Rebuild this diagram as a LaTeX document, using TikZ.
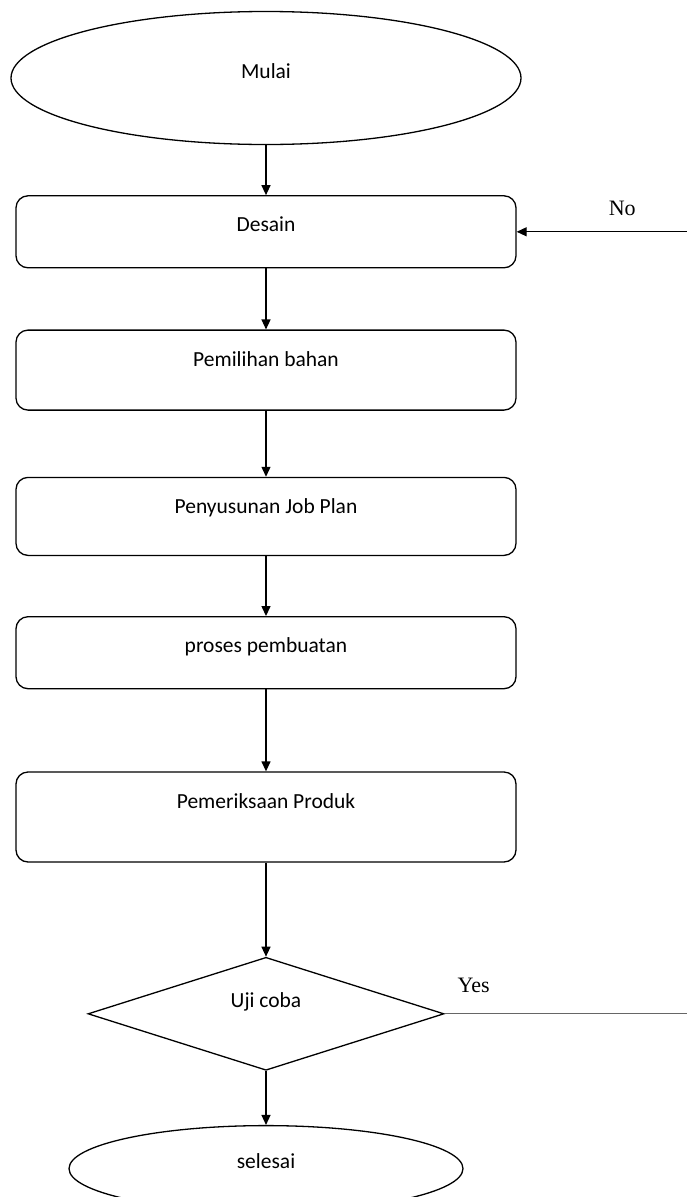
\documentclass[tikz,border=0pt]{standalone}
\usepackage{fontspec}
\setmainfont{Carlito}
\newfontfamily\timesfont{Liberation Serif}
\usepackage{tikz}
\usetikzlibrary{arrows.meta,positioning,shapes.geometric}
\tikzset{
  termbox/.style={ellipse, draw=black, line width=1.3pt, fill=white, inner sep=0pt,
                  text height=15pt, text depth=15pt, font=\fontsize{21.5}{26}\selectfont},
  stepbox/.style={rectangle, rounded corners=12pt, draw=black, line width=1.3pt, fill=white,
                  minimum width=500pt, inner ysep=0pt, text height=36pt, text depth=#1,
                  font=\fontsize{21.5}{26}\selectfont},
  stepbox/.default=36pt,
  testbox/.style={diamond, aspect=3.15, draw=black, line width=1.3pt, fill=white, inner sep=0pt,
                  minimum width=356pt, minimum height=113pt, text height=16pt, text depth=28pt,
                  font=\fontsize{21.5}{26}\selectfont},
  lbl/.style={font=\timesfont\fontsize{22}{26}\selectfont, inner sep=2pt},
  flow/.style={-{Triangle[length=10pt,width=9pt]}, draw=black, line width=1.3pt},
  passline/.style={draw=black!60, line width=0.7pt}
}
\begin{document}
\begin{tikzpicture}[x=1pt, y=-1pt]
\useasboundingbox (0,0) rectangle (687,1197);

% --- start
\node[termbox, minimum width=510pt, minimum height=133pt] (mulai) at (266,78) {Mulai};

% --- steps
\node[stepbox, below=50pt of mulai] (desain) {Desain};
\node[stepbox=44pt, below=61pt of desain] (bahan) {Pemilihan bahan};
\node[stepbox=42pt, below=66pt of bahan] (jobplan) {Penyusunan Job Plan};
\node[stepbox, below=60pt of jobplan] (proses) {proses pembuatan};
\node[stepbox=54pt, below=82pt of proses] (periksa) {Pemeriksaan Produk};

% --- test, end
\node[testbox, below=94pt of periksa] (uji) {Uji coba};
\node[termbox, minimum width=394pt, minimum height=86pt, below=54pt of uji] (selesai) {selesai};

% --- loose ends at the right rim
\coordinate (rim) at (687,0);
\coordinate (noin) at (desain.east -| rim);
\coordinate (yesout) at (uji.east -| rim);

\draw[flow] (mulai) -- (desain);
\draw[flow] (desain) -- (bahan);
\draw[flow] (bahan) -- (jobplan);
\draw[flow] (jobplan) -- (proses);
\draw[flow] (proses) -- (periksa);
\draw[flow] (periksa) -- (uji);
\draw[flow] (uji) -- (selesai);
\draw[flow] (noin) -- node[lbl, pos=0.38, above=13pt] (nolbl) {No} (desain.east);
\draw[passline] (uji.east) -- node[lbl, pos=0.12, above=19pt] (yeslbl) {Yes} (yesout);
\end{tikzpicture}
\end{document}
